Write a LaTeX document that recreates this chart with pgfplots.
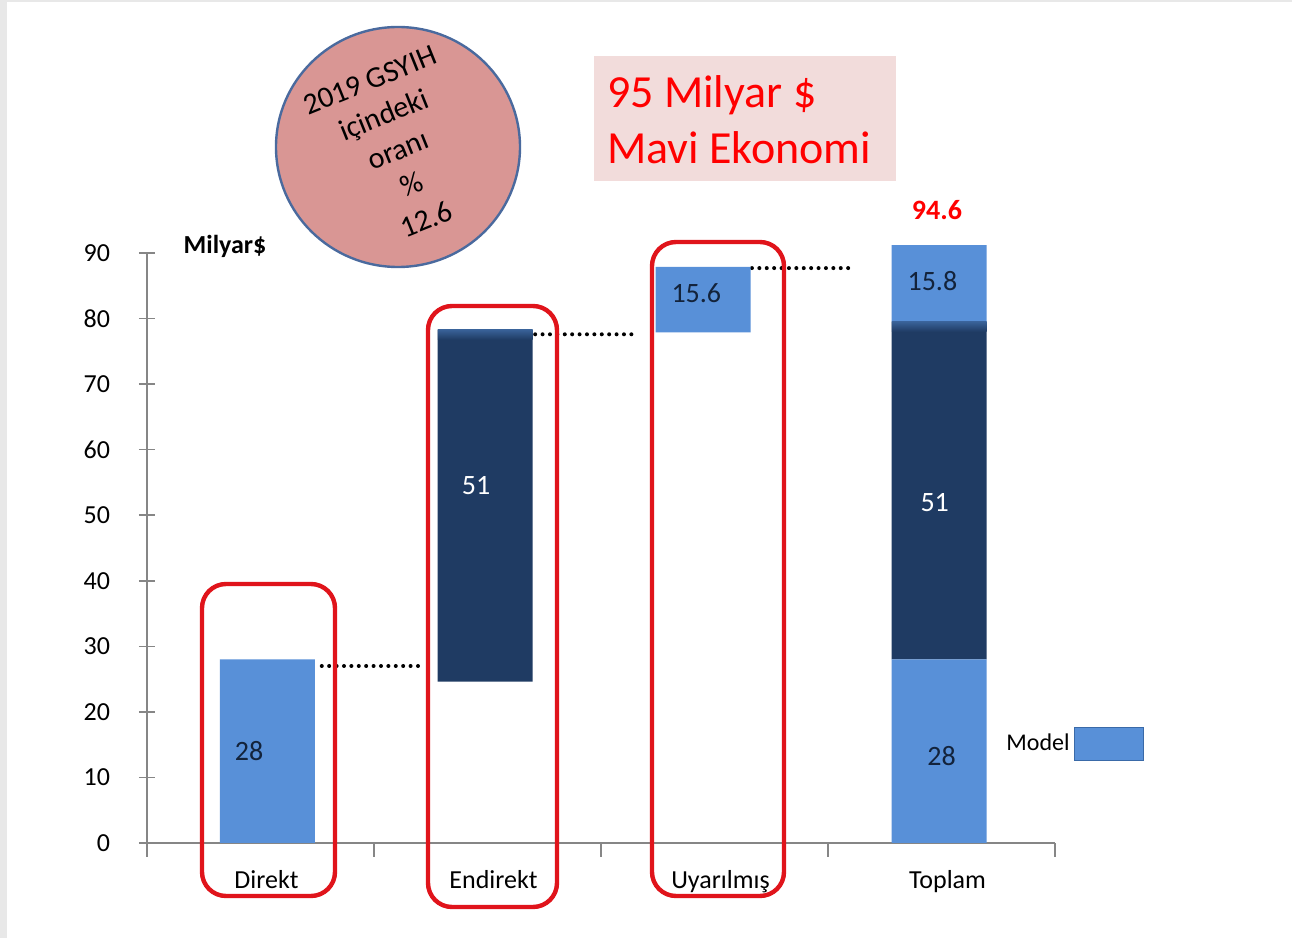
\documentclass[border=0pt]{standalone}
\usepackage{fontspec}
\setmainfont{Carlito}
\usepackage{pgfplots}
\pgfplotsset{compat=1.18}

\definecolor{lightbar}{HTML}{5890D8}
\definecolor{darkbar}{HTML}{1F3B63}
\definecolor{boxred}{HTML}{E0141B}
\definecolor{circfill}{HTML}{D99694}
\definecolor{circedge}{HTML}{4A6A9E}
\definecolor{titlefill}{HTML}{F2DCDB}
\definecolor{axgray}{HTML}{868686}
\definecolor{legedge}{HTML}{3A6AA8}

\newcommand{\fs}[1]{\fontsize{#1}{1.2\dimexpr#1pt\relax}\selectfont}

\begin{document}
\begin{tikzpicture}
% page: 1292 x 938 px at 0.5pt per px
\begin{scope}[x=0.5pt,y=0.5pt]
  \fill[white] (0,0) rectangle (1292,938);
  \fill[gray!18] (0,0) rectangle (7,938);
  \fill[gray!18] (0,936) rectangle (1292,938);
\end{scope}

\begin{axis}[
  scale only axis,
  width=454pt, height=295pt,
  at={(73.5pt,47.5pt)}, anchor=south west,
  xmin=-0.5, xmax=3.5, ymin=0, ymax=90,
  axis lines*=left,
  axis line style={axgray, line width=0.8pt},
  ybar stacked, bar width=47.5pt,
  xtick={0,1,2,3},
  xticklabels={Direkt,Endirekt,Uyarılmış,Toplam},
  major x tick style={draw=none},
  minor xtick={-0.5,0.5,1.5,2.5,3.5},
  minor x tick style={axgray, line width=0.8pt, yshift=-3.5pt},
  minor tick length=7pt,
  ytick={0,10,...,90},
  y tick style={axgray, line width=0.8pt},
  major tick length=8pt,
  tick align=center,
  xticklabel style={font=\fs{13}, yshift=-6pt, xshift=3pt},
  yticklabel style={font=\fs{13}, xshift=-11pt},
  /pgf/number format/assume math mode=true,
  clip=false,
  legend plot pos=right,
  legend style={draw=none, fill=none, at={(axis cs:3.24,15.1)}, anchor=west,
    font=\fs{12}},
]
% invisible base for floating bars
\addplot[draw=none, fill=none, forget plot] coordinates {(0.03,0) (0.99,24.6) (1.95,77.9) (2.99,0)};
\addplot[draw=none, fill=lightbar,
  legend image code/.code={\draw[fill=lightbar, draw=legedge, line width=0.9pt] (6pt,-8.25pt) rectangle (40.5pt,8.25pt);}]
  coordinates {(0.03,28) (0.99,0) (1.95,0) (2.99,28)};
\addlegendentry{Model}
\addplot[draw=none, fill=darkbar, forget plot] coordinates {(0.03,0) (0.99,53.7) (1.95,0) (2.99,51.5)};
\addplot[draw=none, fill=lightbar, forget plot] coordinates {(0.03,0) (0.99,0) (1.95,10) (2.99,11.7)};

% anchors for labels drawn above the bars
\coordinate (bevA1) at (axis cs:0.781,76.8);
\coordinate (bevA2) at (axis cs:1.199,78.3);
\coordinate (bevB1) at (axis cs:2.781,78.0);
\coordinate (bevB2) at (axis cs:3.199,79.5);
\coordinate (v1) at (axis cs:-0.05,14);
\coordinate (v2) at (axis cs:0.95,54.5);
\coordinate (v3) at (axis cs:1.92,83.9);
\coordinate (v4) at (axis cs:2.96,85.7);
\coordinate (v5) at (axis cs:2.97,51.9);
\coordinate (v6) at (axis cs:3.0,13.3);
\node[font=\bfseries\fs{14}, text=red] at (axis cs:2.98,96.5) {94.6};

% connectors
\draw[line width=2pt, line cap=round, dash pattern=on 0pt off 3.7pt]
  (axis cs:0.27,27.0) -- (axis cs:0.72,27.0);
\draw[line width=2pt, line cap=round, dash pattern=on 0pt off 3.7pt]
  (axis cs:1.21,77.6) -- (axis cs:1.65,77.6);
\draw[line width=2pt, line cap=round, dash pattern=on 0pt off 3.7pt]
  (axis cs:2.165,87.7) -- (axis cs:2.61,87.7);
\end{axis}

% bevel on dark bars and bar values
\shade[top color=darkbar!55!lightbar, bottom color=darkbar] (bevA1) rectangle (bevA2);
\shade[top color=darkbar!55!lightbar, bottom color=darkbar] (bevB1) rectangle (bevB2);
\node[font=\fs{14}, text=darkbar!60!black] at (v1) {28};
\node[font=\fs{14}, text=white] at (v2) {51};
\node[font=\fs{14}, text=darkbar!60!black] at (v3) {15.6};
\node[font=\fs{14}, text=darkbar!60!black] at (v4) {15.8};
\node[font=\fs{14}, text=white] at (v5) {51};
\node[font=\fs{14}, text=darkbar!60!black] at (v6) {28};

\begin{scope}[x=0.5pt,y=0.5pt]
  % unit label
  \node[font=\bfseries\fs{13}] at (225,938-246) {Milyar\$};
  % red frames
  \draw[boxred, line width=2.2pt, rounded corners=12pt] (202,938-584) rectangle (335,938-896);
  \draw[boxred, line width=2.2pt, rounded corners=12pt] (428,938-306) rectangle (557,938-907);
  \draw[boxred, line width=2.2pt, rounded corners=12pt] (652,938-242) rectangle (784,938-896);
  % circle
  \draw[fill=circfill, draw=circedge, line width=1.2pt] (398,938-147) ellipse (122 and 120);
  \node[rotate=22, align=center, font=\fontsize{15}{18.8}\selectfont]
    at (398,938-150) {2019 GSYIH\\içindeki\\oranı\\\%\\12.6};
  % title box
  \fill[titlefill] (594,938-56) rectangle (896,938-181);
  \node[anchor=west, align=left, text=red, font=\fontsize{23}{28}\selectfont]
    at (600,938-120) {95 Milyar \$\\Mavi Ekonomi};
\end{scope}
\end{tikzpicture}
\end{document}
